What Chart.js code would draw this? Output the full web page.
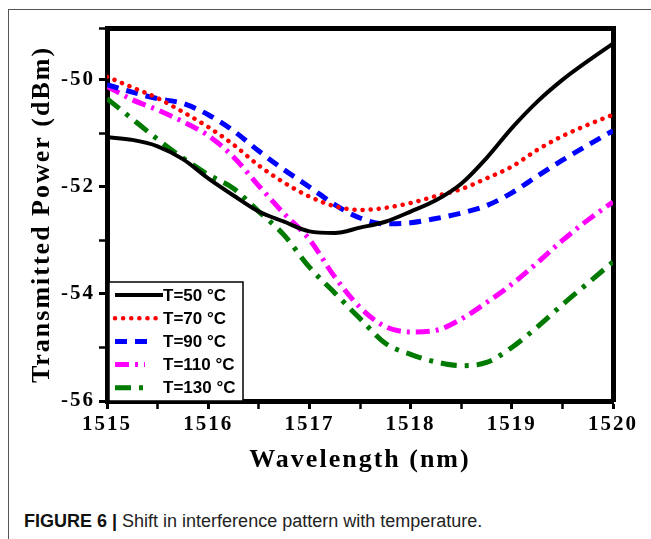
<!DOCTYPE html>
<html>
<head>
<meta charset="utf-8">
<script src="https://cdn.jsdelivr.net/npm/chart.js@4.4.0/dist/chart.umd.min.js"></script>
<style>
  body { margin: 0; background: #fff; width: 651px; height: 539px; overflow: hidden; position: relative; font-family: "Liberation Sans", Arial, sans-serif; }
  #frame { position: absolute; left: 8px; top: 9px; width: 700px; height: 600px; border-left: 1px solid #555; border-top: 1px solid #555; }
  #wrap { position: absolute; left: 0; top: 0; width: 651px; height: 480px; }
  #caption { position: absolute; left: 24px; top: 511px; font-size: 18px; color: #222; white-space: nowrap; }
  #caption b { color: #111; }
</style>
</head>
<body>
<div id="frame"></div>
<div id="wrap"><canvas id="chart" width="651" height="480"></canvas></div>
<div id="caption"><b>FIGURE 6 |</b> Shift in interference pattern with temperature.</div>
<script>
// wavelength grid (nm) the curves were read at
const wavelength = [1515, 1515.25, 1515.5, 1515.75, 1516, 1516.25, 1516.5, 1516.75, 1517, 1517.25,
  1517.5, 1517.75, 1518, 1518.25, 1518.5, 1518.75, 1519, 1519.25, 1519.5, 1519.75, 1520];

// transmitted power (dBm)
const t50 = [-51.07, -51.12, -51.24, -51.48, -51.84, -52.16, -52.46, -52.65, -52.83, -52.86,
  -52.76, -52.65, -52.46, -52.25, -51.94, -51.46, -50.9, -50.41, -50.0, -49.65, -49.32];
const t70 = [-49.94, -50.14, -50.34, -50.6, -50.88, -51.21, -51.6, -51.92, -52.18, -52.36,
  -52.43, -52.39, -52.3, -52.17, -52.04, -51.84, -51.62, -51.31, -51.05, -50.84, -50.65];
const t90 = [-50.09, -50.23, -50.35, -50.44, -50.65, -50.95, -51.33, -51.68, -52.0, -52.33,
  -52.58, -52.69, -52.67, -52.59, -52.49, -52.35, -52.11, -51.8, -51.5, -51.22, -50.95];
const t110 = [-50.12, -50.37, -50.56, -50.78, -51.04, -51.44, -51.98, -52.5, -52.98, -53.68,
  -54.25, -54.61, -54.71, -54.68, -54.47, -54.16, -53.82, -53.42, -53.0, -52.62, -52.28];
const t130 = [-50.35, -50.73, -51.11, -51.46, -51.77, -52.03, -52.46, -52.9, -53.5, -53.98,
  -54.46, -54.92, -55.13, -55.27, -55.34, -55.28, -55.0, -54.62, -54.2, -53.8, -53.4];

const seriesLabels = ['T=50 °C', 'T=70 °C', 'T=90 °C', 'T=110 °C', 'T=130 °C'];
const xTicks = [1515, 1516, 1517, 1518, 1519, 1520];
const yTicks = [-56, -54, -52, -50];

const pts = (arr) => wavelength.map((x, i) => ({ x, y: arr[i] }));
const serif = "'Liberation Serif', 'Times New Roman', serif";

// the original figure's serif text is set wide; spread axis text a little
const wideText = {
  id: 'wideText',
  beforeDraw(chart) { chart.ctx.letterSpacing = '2px'; },
  afterDraw(chart) { chart.ctx.letterSpacing = '0px'; }
};

// legend drawn as a boxed key in the lower-left corner of the plot
const boxLegend = {
  id: 'boxLegend',
  afterDatasetsDraw(chart) {
    const { ctx, chartArea } = chart;
    const w = 134, h = 119;
    const x0 = chartArea.left + 2, y0 = chartArea.bottom - h;
    ctx.save();
    ctx.letterSpacing = '0px';
    ctx.fillStyle = '#fff';
    ctx.fillRect(x0, y0, w, h);
    ctx.strokeStyle = '#000';
    ctx.lineWidth = 1.5;
    ctx.strokeRect(x0, y0, w, h);
    chart.data.datasets.forEach((ds, i) => {
      const y = y0 + 13 + i * 23.2;
      ctx.beginPath();
      ctx.setLineDash(ds.borderDash || []);
      ctx.lineCap = ds.borderCapStyle || 'butt';
      ctx.strokeStyle = ds.borderColor;
      ctx.lineWidth = ds.borderWidth;
      ctx.moveTo(x0 + 6, y);
      ctx.lineTo(x0 + 6 + ds.legendLen, y);
      ctx.stroke();
      ctx.setLineDash([]);
      ctx.fillStyle = '#000';
      ctx.font = 'bold 17px "Liberation Sans", Arial, sans-serif';
      ctx.textBaseline = 'middle';
      ctx.fillText(ds.label, x0 + 54, y + 1);
    });
    ctx.restore();
  }
};

const frameAxis = (pos) => ({
  type: 'linear',
  position: pos,
  min: pos === 'top' ? 1515 : -56,
  max: pos === 'top' ? 1520 : -49.03,
  ticks: { display: false },
  grid: { display: false },
  border: { display: true, color: '#000', width: 5 },
  afterFit: (s) => { if (pos === 'top') s.height = 0; else s.width = 0; }
});

new Chart(document.getElementById('chart'), {
  type: 'line',
  data: {
    datasets: [
      { label: seriesLabels[0], data: pts(t50), borderColor: '#000000', borderWidth: 4, legendLen: 48 },
      { label: seriesLabels[1], data: pts(t70), borderColor: '#ff0000', borderWidth: 4.5, borderDash: [0.1, 8], borderCapStyle: 'round', legendLen: 48 },
      { label: seriesLabels[2], data: pts(t90), borderColor: '#0000ff', borderWidth: 5, borderDash: [12, 8], legendLen: 32 },
      { label: seriesLabels[3], data: pts(t110), borderColor: '#ff00ff', borderWidth: 5, borderDash: [14, 6, 3, 6], legendLen: 30 },
      { label: seriesLabels[4], data: pts(t130), borderColor: '#007a00', borderWidth: 5, borderDash: [16, 8, 4, 8], legendLen: 36 }
    ]
  },
  options: {
    responsive: false,
    animation: false,
    devicePixelRatio: 1,
    layout: { padding: { top: 28, right: 38, left: 0, bottom: 0 } },
    elements: { point: { radius: 0 }, line: { cubicInterpolationMode: 'monotone' } },
    plugins: { legend: { display: false }, tooltip: { enabled: false } },
    scales: {
      x: {
        type: 'linear', position: 'bottom', min: 1515, max: 1520,
        ticks: {
          stepSize: 0.5, padding: 3, color: '#000',
          font: { family: serif, size: 21, weight: 'bold' },
          callback: (v) => xTicks.includes(v) ? String(v) : ''
        },
        grid: {
          drawOnChartArea: false, tickLength: 8, tickColor: '#000',
          tickWidth: (c) => (c.tick && xTicks.includes(c.tick.value)) ? 3 : 2.5
        },
        border: { color: '#000', width: 5 },
        title: { display: true, text: 'Wavelength (nm)', color: '#000', font: { family: serif, size: 26, weight: 'bold' }, padding: { top: 0, bottom: 4 } },
        afterFit: (s) => { s.height = 79; }
      },
      y: {
        type: 'linear', position: 'left', min: -56, max: -49.03,
        ticks: {
          stepSize: 1, padding: 4, color: '#000',
          font: { family: serif, size: 21, weight: 'bold' },
          callback: (v) => yTicks.includes(v) ? String(v) : ''
        },
        grid: {
          drawOnChartArea: false, tickLength: 8, tickColor: '#000',
          tickWidth: (c) => (c.tick && yTicks.includes(c.tick.value)) ? 3 : 2.5
        },
        border: { color: '#000', width: 5 },
        title: { display: true, text: 'Transmitted Power (dBm)', color: '#000', font: { family: serif, size: 26, weight: 'bold' }, padding: { top: 27, bottom: 0 } },
        afterFit: (s) => { s.width = 107; }
      },
      x2: frameAxis('top'),
      y2: frameAxis('right')
    }
  },
  plugins: [wideText, boxLegend]
});
</script>
</body>
</html>
